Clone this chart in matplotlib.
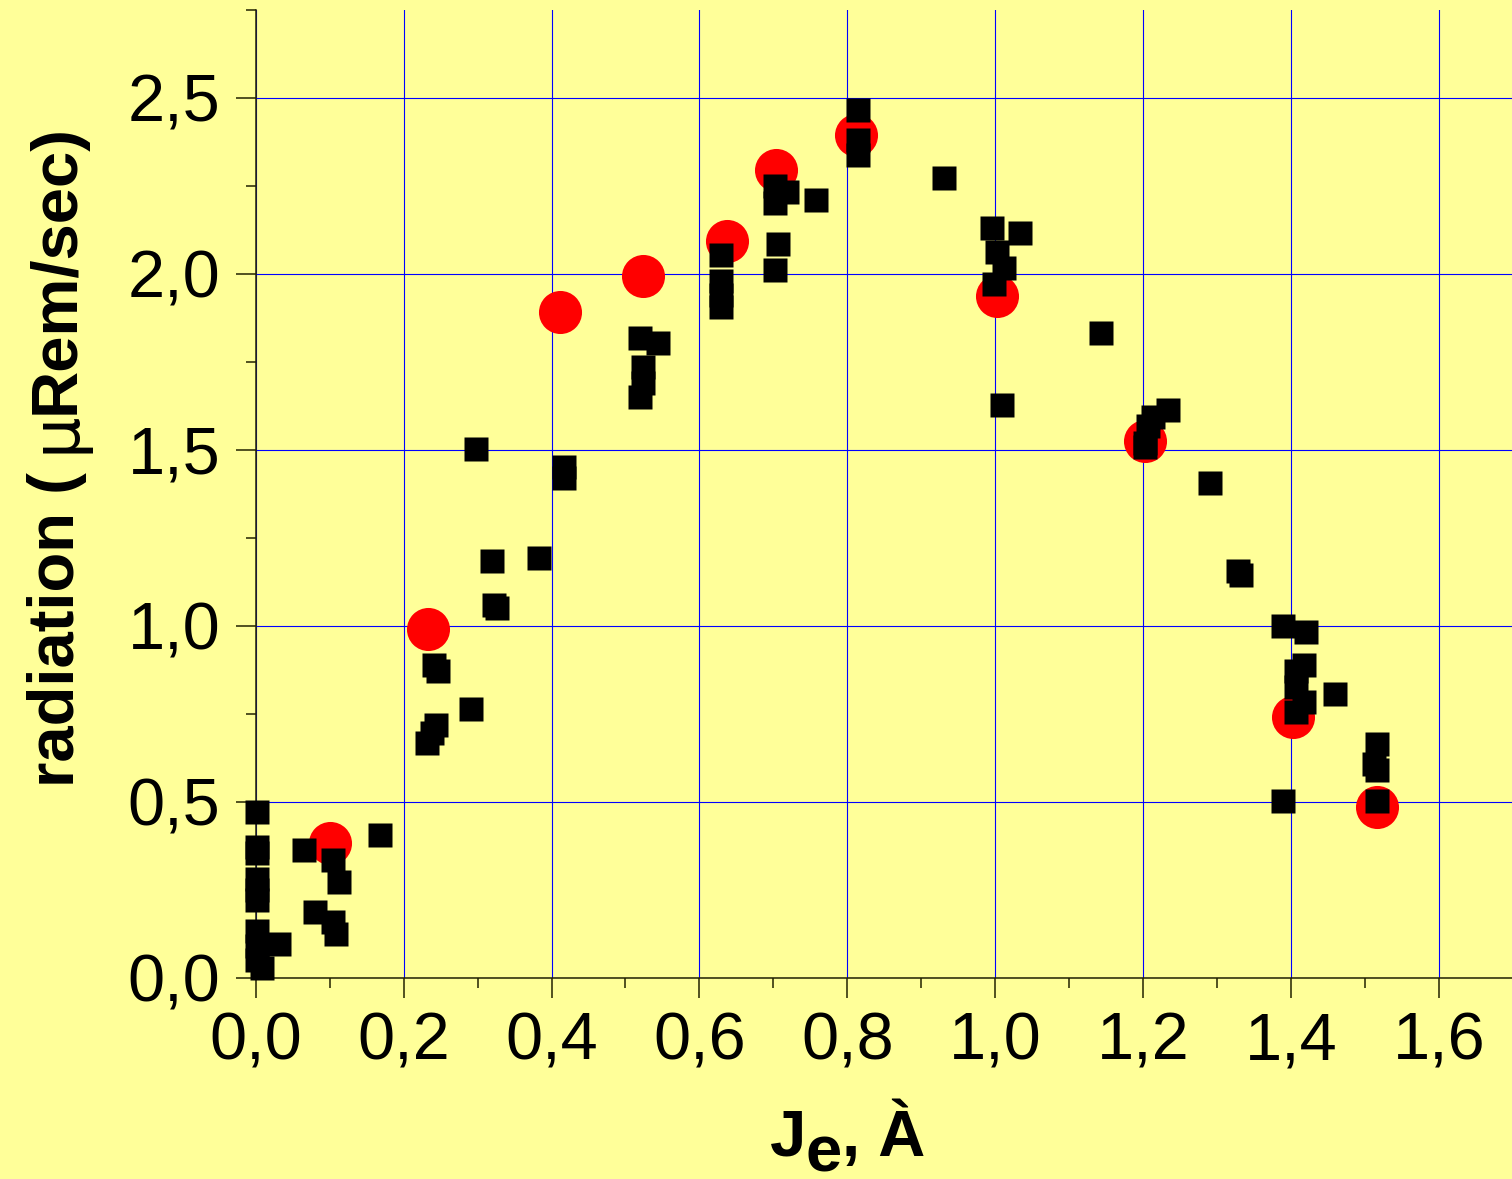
import matplotlib
matplotlib.use("Agg")
import matplotlib.pyplot as plt
from matplotlib.ticker import MultipleLocator, FuncFormatter

plt.rcParams["font.family"] = ["Liberation Sans", "DejaVu Sans"]

# Reference points (red circles)
circ_x = [0.101, 0.233, 0.412, 0.523, 0.637, 0.703, 0.812, 1.002, 1.203, 1.403, 1.516]
circ_y = [0.384, 0.990, 1.892, 1.994, 2.092, 2.293, 2.394, 1.936, 1.523, 0.740, 0.485]

# Measured points (black squares)
sq_x = [0.002, 0.002, 0.002, 0.002, 0.002, 0.002, 0.002, 0.002, 0.002, 0.009, 0.032,
        0.065, 0.105, 0.113, 0.080, 0.105, 0.109, 0.168,
        0.231, 0.239, 0.244, 0.241, 0.247, 0.291, 0.298, 0.320, 0.322, 0.326, 0.383, 0.417, 0.417,
        0.519, 0.544, 0.523, 0.523, 0.519,
        0.629, 0.629, 0.629, 0.629,
        0.702, 0.706, 0.702, 0.719, 0.702, 0.758,
        0.814, 0.814, 0.814, 0.931,
        0.995, 1.033, 1.002, 1.012, 0.998, 1.009, 1.143,
        1.234, 1.213, 1.206, 1.202, 1.202, 1.290, 1.328, 1.332,
        1.389, 1.420, 1.417, 1.407, 1.407, 1.417, 1.407, 1.459, 1.516, 1.512, 1.516, 1.389, 1.516]
sq_y = [0.471, 0.372, 0.355, 0.280, 0.250, 0.222, 0.133, 0.090, 0.050, 0.028, 0.096,
        0.362, 0.334, 0.272, 0.187, 0.157, 0.124, 0.406,
        0.666, 0.694, 0.717, 0.888, 0.870, 0.762, 1.501, 1.183, 1.058, 1.050, 1.191, 1.450, 1.420,
        1.818, 1.802, 1.736, 1.690, 1.648,
        2.054, 1.979, 1.938, 1.906,
        2.011, 2.083, 2.250, 2.233, 2.199, 2.208,
        2.465, 2.378, 2.336, 2.270,
        2.128, 2.114, 2.061, 2.016, 1.970, 1.626, 1.831,
        1.613, 1.592, 1.567, 1.520, 1.507, 1.404, 1.155, 1.145,
        0.998, 0.983, 0.888, 0.870, 0.825, 0.783, 0.755, 0.807, 0.663, 0.607, 0.591, 0.502, 0.502]

W, H = 1512, 1179
bg = "#FFFF99"
fig = plt.figure(figsize=(W / 100, H / 100), dpi=100, facecolor=bg)
ax = fig.add_axes([0.1691, 0.17074, 0.8316, 0.8212], facecolor=bg)

ax.plot(circ_x, circ_y, linestyle="none", marker="o", ms=31, mfc="#FF0000",
        mec="none", clip_on=False, zorder=3)
ax.plot(sq_x, sq_y, linestyle="none", marker="s", ms=17.5, mfc="black",
        mec="none", clip_on=False, zorder=4)

ax.set_xlim(0, 1.7)
ax.set_ylim(0, 2.75)

ax.xaxis.set_major_locator(MultipleLocator(0.2))
ax.xaxis.set_minor_locator(MultipleLocator(0.1))
ax.yaxis.set_major_locator(MultipleLocator(0.5))
ax.yaxis.set_minor_locator(MultipleLocator(0.25))
comma = FuncFormatter(lambda v, p: f"{v:.1f}".replace(".", ","))
ax.xaxis.set_major_formatter(comma)
ax.yaxis.set_major_formatter(comma)

ax.grid(True, which="major", color="#0000FF", lw=0.8)
ax.set_axisbelow(True)

for s in ("top", "right"):
    ax.spines[s].set_visible(False)
for s in ("left", "bottom"):
    ax.spines[s].set_color("#222200")
    ax.spines[s].set_linewidth(1.1)

ax.tick_params(which="major", length=14.4, width=1.1, color="#222200",
               labelsize=48, direction="out")
ax.tick_params(which="minor", length=7.2, width=1.1, color="#222200", direction="out")
ax.tick_params(axis="x", which="major", pad=10)
ax.tick_params(axis="y", which="major", pad=11)


def px(x, y):
    return x / W, 1 - y / H


# y-axis label, written bottom-to-top in three runs sharing one baseline
y_kw = dict(rotation=90, rotation_mode="anchor", ha="left", va="baseline",
            fontsize=47)
fig.text(*px(74, 787), "radiation ( ", fontweight="bold", **y_kw)
fig.text(*px(74, 453), "μ", fontweight="normal",
         family=["DejaVu Sans"], **y_kw)
fig.text(*px(74, 414), "Rem/sec)", fontweight="bold", **y_kw)

# x-axis label: J with a lowered e, then ", À"
x_kw = dict(ha="left", va="baseline", fontsize=47, fontweight="bold")
fig.text(*px(770, 1156), "J", **x_kw)
fig.text(*px(806, 1171), "e", **x_kw)
fig.text(*px(842, 1156), ", À", **x_kw)

fig.savefig("out.png", dpi=100, facecolor=bg)
